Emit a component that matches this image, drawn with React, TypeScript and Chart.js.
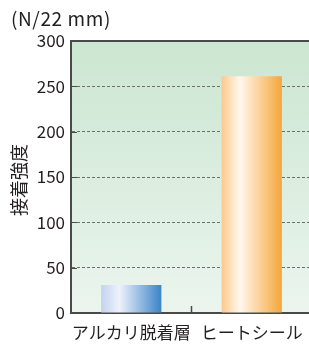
import React, { useEffect, useRef } from 'react';
import { Chart, registerables } from 'chart.js';

Chart.register(...registerables);

const categories = ['アルカリ脱着層', 'ヒートシール'];
const strengthValues = [31, 261];
const yTickValues = [0, 50, 100, 150, 200, 250, 300];
const unitLabel = '(N/22 mm)';
const axisTitle = '接着強度';

const FONT = "'Noto Sans CJK JP', 'Noto Sans', sans-serif";
const TEXT = '#231f20';
const AXIS = '#4a4a4a';

const barStops: [number, string][][] = [
  [[0, '#c2d2ee'], [0.3, '#eef2fb'], [1, '#3b84c8']],
  [[0, '#fcc88a'], [0.3, '#fff8ee'], [1, '#f5a63a']],
];

const decor = {
  id: 'decor',
  beforeDraw(chart: any) {
    const { ctx, chartArea: a } = chart;
    const g = ctx.createLinearGradient(0, a.top, 0, a.bottom);
    g.addColorStop(0, '#cbe6d1');
    g.addColorStop(1, '#ebf5ee');
    ctx.save();
    ctx.fillStyle = g;
    ctx.fillRect(a.left, a.top, a.right - a.left, a.bottom - a.top);
    ctx.restore();
  },
  afterDraw(chart: any) {
    const { ctx, chartArea: a, scales } = chart;
    ctx.save();
    ctx.strokeStyle = AXIS;
    ctx.lineWidth = 2;
    ctx.beginPath();
    ctx.moveTo(a.left - 1, a.top);
    ctx.lineTo(a.right, a.top);
    ctx.stroke();
    ctx.lineWidth = 1;
    yTickValues.forEach((v) => {
      if (v === 0 || v === 300) return;
      const y = Math.round(scales.y.getPixelForValue(v)) + 0.5;
      ctx.beginPath();
      ctx.moveTo(a.left, y);
      ctx.lineTo(a.left + 6, y);
      ctx.stroke();
    });
    const xb = (scales.x.getPixelForValue(0) + scales.x.getPixelForValue(1)) / 2;
    ctx.lineWidth = 1.5;
    ctx.beginPath();
    ctx.moveTo(xb, a.bottom);
    ctx.lineTo(xb, a.bottom - 7);
    ctx.stroke();
    ctx.fillStyle = TEXT;
    ctx.font = `19px ${FONT}`;
    ctx.textAlign = 'left';
    ctx.textBaseline = 'middle';
    (ctx as any).letterSpacing = '0.6px';
    ctx.fillText(unitLabel, 11, 19);
    (ctx as any).letterSpacing = '0px';
    ctx.translate(19, 180);
    ctx.rotate(-Math.PI / 2);
    ctx.textAlign = 'center';
    ctx.font = `18px ${FONT}`;
    ctx.fillText(axisTitle, 0, 0);
    ctx.restore();
  },
};

export default function App() {
  const ref = useRef<HTMLCanvasElement | null>(null);
  useEffect(() => {
    document.body.style.margin = '0';
    const canvas = ref.current!;
    const chart = new Chart(canvas, {
      type: 'bar',
      data: {
        labels: categories,
        datasets: [
          {
            data: strengthValues,
            categoryPercentage: 1,
            barPercentage: 0.5,
            borderWidth: 0,
            backgroundColor: (c: any) => {
              const ch = c.chart;
              const xs = ch.scales && ch.scales.x;
              if (!ch.chartArea || !xs || c.dataIndex === undefined) return '#999';
              const cx = xs.getPixelForValue(c.dataIndex);
              const half = (xs.width / categories.length) * 0.25;
              const g = ch.ctx.createLinearGradient(cx - half, 0, cx + half, 0);
              barStops[c.dataIndex].forEach(([o, col]) => g.addColorStop(o, col));
              return g;
            },
          },
        ],
      },
      options: {
        responsive: false,
        animation: false,
        devicePixelRatio: 1,
        layout: { padding: { top: 41, left: 0, right: 0, bottom: 0 } },
        plugins: { legend: { display: false }, tooltip: { enabled: false }, title: { display: false } },
        scales: {
          x: {
            offset: true,
            grid: { display: false, drawTicks: false },
            border: { color: AXIS, width: 2 },
            ticks: { color: TEXT, font: { family: FONT, size: 17 }, padding: 9, maxRotation: 0, autoSkip: false },
            afterFit: (s: any) => { s.height = 32; },
          },
          y: {
            min: 0,
            max: 300,
            afterBuildTicks: (s: any) => { s.ticks = yTickValues.map((v) => ({ value: v })); },
            grid: {
              drawTicks: false,
              color: (c: any) => (c.tick && (c.tick.value === 0 || c.tick.value === 300) ? 'rgba(0,0,0,0)' : '#6e6e6e'),
              lineWidth: 1,
            },
            border: { color: AXIS, width: 2, dash: [3, 2] },
            ticks: { color: TEXT, font: { family: FONT, size: 17 }, padding: 6 },
            afterFit: (s: any) => { s.width = 71; },
          },
        },
      },
      plugins: [decor],
    });
    return () => chart.destroy();
  }, []);
  return (
    <div style={{ width: 309, height: 345, overflow: 'hidden', background: '#fff' }}>
      <canvas ref={ref} width={312} height={345} style={{ display: 'block' }} />
    </div>
  );
}
